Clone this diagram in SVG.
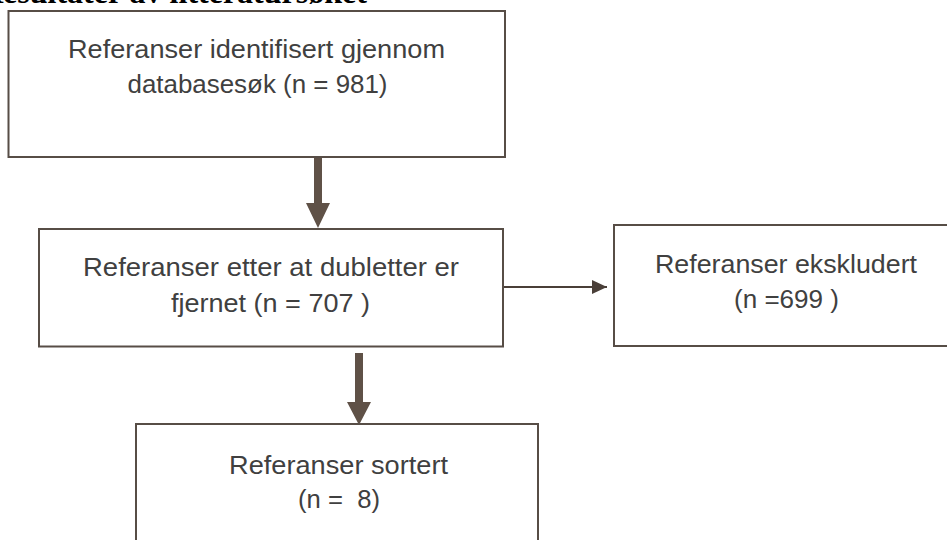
<svg xmlns="http://www.w3.org/2000/svg" width="947" height="540" viewBox="0 0 947 540">
<style>
.box{fill:#ffffff;stroke:#574d46;stroke-width:2}
.t{font-family:"Liberation Sans",Arial,sans-serif;font-size:25.5px;fill:#404040;text-anchor:middle}
.title{font-family:"Liberation Serif","Times New Roman",serif;font-weight:bold;font-size:32px;fill:#000}
.thick{fill:#5f5147}
.thin{stroke:#4a3f38;stroke-width:2;fill:none}
</style>
<defs>
<marker id="ah" viewBox="0 0 15 14" refX="15" refY="7" markerWidth="15" markerHeight="14" markerUnits="userSpaceOnUse" orient="auto">
<path d="M0,0 L15,7 L0,14 Z" fill="#4a3f38"/>
</marker>
</defs>
<rect width="947" height="540" fill="#ffffff"/>
<text class="title" x="-20" y="3">Resultater av litteratursøket</text>
<g id="connectors">
<path class="thick" d="M314,157 H322 V203 H330 L318,228 L306,203 H314 Z"/>
<path class="thick" d="M355,353 H363 V402 H371 L359,425 L347,402 H355 Z"/>
<line class="thin" x1="503" y1="287" x2="607" y2="287" marker-end="url(#ah)"/>
</g>
<g id="n1">
<rect class="box" x="8.5" y="11" width="496.5" height="146"/>
<text class="t" x="256.5" y="58" textLength="377" lengthAdjust="spacingAndGlyphs">Referanser identifisert gjennom</text>
<text class="t" x="257.5" y="93" textLength="260" lengthAdjust="spacingAndGlyphs">databasesøk (n = 981)</text>
</g>
<g id="n2">
<rect class="box" x="39" y="229" width="464" height="117.5"/>
<text class="t" x="271" y="276" textLength="376" lengthAdjust="spacingAndGlyphs">Referanser etter at dubletter er</text>
<text class="t" x="270.5" y="312" textLength="199" lengthAdjust="spacingAndGlyphs">fjernet (n = 707 )</text>
</g>
<g id="n3">
<rect class="box" x="614" y="225" width="345" height="121"/>
<text class="t" x="786" y="273" textLength="262" lengthAdjust="spacingAndGlyphs">Referanser ekskludert</text>
<text class="t" x="786.5" y="308" textLength="105" lengthAdjust="spacingAndGlyphs">(n =699 )</text>
</g>
<g id="n4">
<rect class="box" x="136" y="424" width="402" height="130"/>
<text class="t" x="338.5" y="474" textLength="219" lengthAdjust="spacingAndGlyphs">Referanser sortert</text>
<text class="t" x="339" y="508" textLength="82" lengthAdjust="spacingAndGlyphs" xml:space="preserve">(n =  8)</text>
</g>
</svg>
